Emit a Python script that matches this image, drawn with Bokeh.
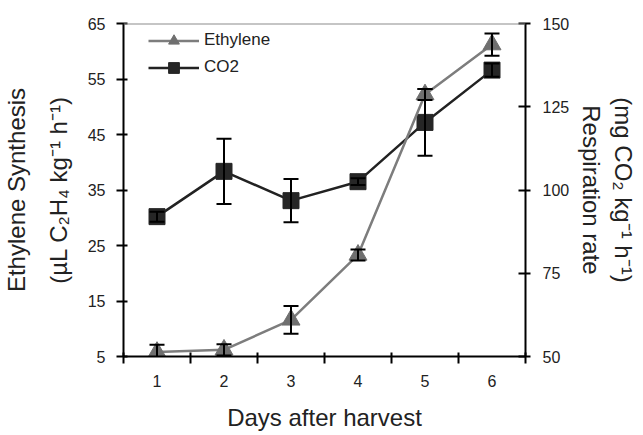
from bokeh.plotting import figure
from bokeh.models import (ColumnDataSource, Range1d, LinearAxis, FixedTicker, Whisker,
                          TeeHead, Span, Legend, LegendItem, Title)
from bokeh.embed import file_html
from bokeh.resources import INLINE

# ---- data ----
days = [1, 2, 3, 4, 5, 6]
ethylene = [5.8, 6.2, 11.6, 23.3, 52.2, 61.2]
ethylene_err = [1.3, 1.0, 2.5, 1.0, 1.0, 2.0]
co2 = [92.0, 105.6, 96.8, 102.5, 120.3, 136.0]
co2_err = [1.5, 9.8, 6.5, 1.0, 10.0, 2.0]
left_ticks = [5, 15, 25, 35, 45, 55, 65]
right_ticks = [50, 75, 100, 125, 150]
day_bounds = [0.5, 1.5, 2.5, 3.5, 4.5, 5.5, 6.5]

FONT = "Liberation Sans"
TXT = "#222222"

W, H = 643, 435
ML, MT = 121, 23
FR, FB = 525, 356
MR, MB = W - FR, H - FB
FH = FB - MT
X0, X1 = 0.5, 6.5
Y0, Y1 = 5, 65

p = figure(width=W, height=H, output_backend="svg", toolbar_location=None,
           x_range=Range1d(X0, X1), y_range=Range1d(Y0, Y1),
           min_border_left=ML, min_border_right=MR, min_border_top=MT, min_border_bottom=MB)
p.extra_y_ranges = {"co2": Range1d(50, 150)}
p.grid.visible = False
p.outline_line_color = None
p.background_fill_color = "white"
p.border_fill_color = "white"

# bottom axis
xa = p.xaxis[0]
xa.ticker = FixedTicker(ticks=days, minor_ticks=day_bounds)
xa.major_tick_in = 0
xa.major_tick_out = 0
xa.minor_tick_in = 4
xa.minor_tick_out = 7
xa.minor_tick_line_color = "black"
xa.minor_tick_line_width = 2
xa.axis_line_width = 2
xa.axis_line_color = "black"
xa.major_label_standoff = 11
xa.major_label_text_font = FONT
xa.major_label_text_font_size = "16px"
xa.major_label_text_color = TXT
xa.axis_label = "Days after harvest"
xa.axis_label_text_font = FONT
xa.axis_label_text_font_size = "24px"
xa.axis_label_text_font_style = "normal"
xa.axis_label_text_color = TXT
xa.axis_label_standoff = 14

# left axis
ya = p.yaxis[0]
ya.ticker = FixedTicker(ticks=left_ticks)
ya.major_tick_in = 4
ya.major_tick_out = 7
ya.major_tick_line_width = 2
ya.major_tick_line_color = "black"
ya.axis_line_width = 2
ya.axis_line_color = "black"
ya.major_label_standoff = 11
ya.major_label_text_font = FONT
ya.major_label_text_font_size = "16px"
ya.major_label_text_color = TXT

# right axis (ticks and tick labels)
ra = LinearAxis(y_range_name="co2", ticker=FixedTicker(ticks=right_ticks))
ra.major_tick_in = 7
ra.major_tick_out = 5
ra.major_tick_line_width = 2
ra.major_tick_line_color = "black"
ra.axis_line_width = 2
ra.axis_line_color = "black"
ra.major_label_standoff = 12
ra.major_label_text_font = FONT
ra.major_label_text_font_size = "16px"
ra.major_label_text_color = TXT
p.add_layout(ra, "right")


def title_axis(text, standoff):
    ax = LinearAxis(y_range_name="co2", ticker=FixedTicker(ticks=[]))
    ax.axis_line_color = None
    ax.major_tick_out = 0
    ax.major_tick_in = 0
    ax.minor_tick_out = 0
    ax.minor_tick_in = 0
    ax.major_label_standoff = 0
    ax.axis_label = text
    ax.axis_label_text_font = FONT
    ax.axis_label_text_font_size = "24px"
    ax.axis_label_text_font_style = "normal"
    ax.axis_label_text_color = TXT
    ax.axis_label_standoff = standoff
    ax.axis_label_orientation = "vertical"
    p.add_layout(ax, "right")


title_axis("Respiration rate", 5)
title_axis("(mg CO₂ kg⁻¹ h⁻¹)", 2)

# top border (gray)
p.add_layout(Span(location=Y1, dimension="width", line_color="#8c8c8c", line_width=2))

src = ColumnDataSource(dict(
    day=days,
    eth=ethylene,
    eth_lo=[v - e for v, e in zip(ethylene, ethylene_err)],
    eth_hi=[v + e for v, e in zip(ethylene, ethylene_err)],
    co2=co2,
    co2_lo=[v - e for v, e in zip(co2, co2_err)],
    co2_hi=[v + e for v, e in zip(co2, co2_err)],
))

co2_line = p.line("day", "co2", source=src, y_range_name="co2", line_color="#222222", line_width=2.5)
co2_pts = p.scatter("day", "co2", source=src, y_range_name="co2", marker="square", size=16,
                    fill_color="#262626", line_color="#262626")
eth_line = p.line("day", "eth", source=src, line_color="#7d7d7d", line_width=2.5)
eth_pts = p.scatter("day", "eth", source=src, marker="triangle", size=18,
                    fill_color="#6f6f6f", line_color="#6f6f6f")


def head():
    return TeeHead(size=15, line_width=2, line_color="black")


p.add_layout(Whisker(source=src, base="day", lower="co2_lo", upper="co2_hi", y_range_name="co2",
                     line_color="black", line_width=2, upper_head=head(), lower_head=head(),
                     level="annotation"))
p.add_layout(Whisker(source=src, base="day", lower="eth_lo", upper="eth_hi",
                     line_color="black", line_width=2, upper_head=head(), lower_head=head(),
                     level="annotation"))

legend = Legend(items=[LegendItem(label="Ethylene", renderers=[eth_line, eth_pts]),
                       LegendItem(label="CO2", renderers=[co2_line, co2_pts])],
                location=(25, FH - 57.5), padding=0, margin=0, spacing=0,
                glyph_width=51, glyph_height=27, label_standoff=5,
                border_line_color=None, background_fill_alpha=0)
legend.label_text_font = FONT
legend.label_text_font_size = "17px"
legend.label_text_color = TXT
p.add_layout(legend)


def side_title(text, side, offset=0, standoff=6):
    t = Title(text=text, align="center", offset=offset, standoff=standoff,
              text_font=FONT, text_font_size="24px", text_font_style="normal",
              text_color=TXT)
    p.add_layout(t, side)


# left: inner line first, outer line second
side_title("(µL C₂H₄ kg⁻¹ h⁻¹)", "left", offset=28, standoff=25)
side_title("Ethylene Synthesis", "left", offset=4, standoff=1)

open("out.html", "w").write(file_html(p, INLINE))
